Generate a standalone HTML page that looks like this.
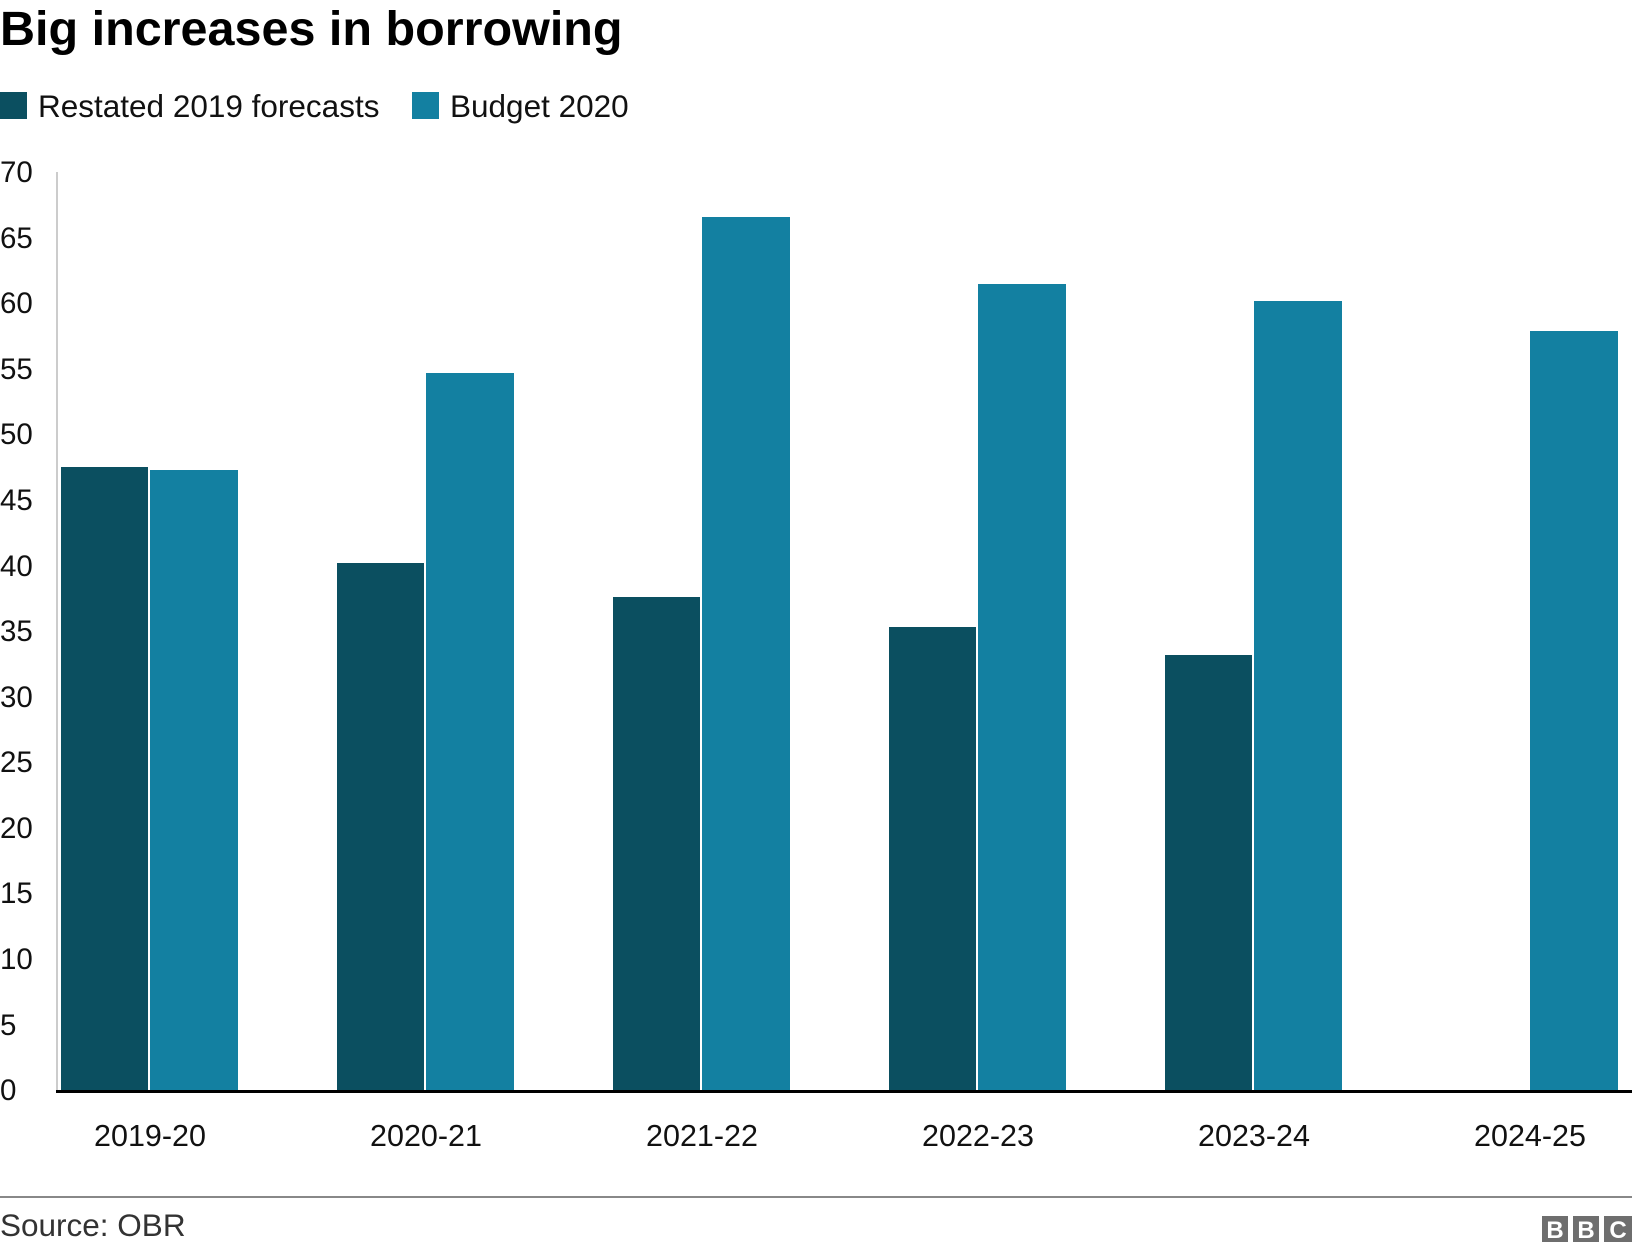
<!DOCTYPE html>
<html><head><meta charset="utf-8"><style>
body{margin:0;background:#fff;width:1632px;height:1252px;overflow:hidden;font-family:"Liberation Sans",Arial,sans-serif}
</style></head><body>
<svg width="1632" height="1252" xmlns="http://www.w3.org/2000/svg" font-family="Liberation Sans, Arial, sans-serif">
<text x="0" y="45" font-size="48.5" font-weight="bold" fill="#000">Big increases in borrowing</text>
<rect x="0" y="92" width="27" height="27" fill="#0b4f60"/>
<text x="38" y="117" font-size="31.5" fill="#111">Restated 2019 forecasts</text>
<rect x="412" y="92" width="27" height="27" fill="#1380a1"/>
<text x="450" y="117" font-size="31.5" fill="#111">Budget 2020</text>
<line x1="57" y1="172" x2="57" y2="1090" stroke="#cccccc" stroke-width="2"/>
<g font-size="29.5" fill="#111">
<text x="0" y="182">70</text><text x="0" y="248">65</text><text x="0" y="313">60</text><text x="0" y="379">55</text><text x="0" y="444">50</text><text x="0" y="510">45</text><text x="0" y="576">40</text><text x="0" y="641">35</text><text x="0" y="707">30</text><text x="0" y="772">25</text><text x="0" y="838">20</text><text x="0" y="903">15</text><text x="0" y="969">10</text><text x="0" y="1035">5</text><text x="0" y="1100">0</text>
</g>
<g fill="#0b4f60">
<rect x="61" y="467" width="87" height="623"/>
<rect x="337" y="563" width="87" height="527"/>
<rect x="613" y="597" width="87" height="493"/>
<rect x="889" y="627" width="87" height="463"/>
<rect x="1165" y="655" width="87" height="435"/>
</g>
<g fill="#1380a1">
<rect x="150" y="470" width="88" height="620"/>
<rect x="426" y="373" width="88" height="717"/>
<rect x="702" y="217" width="88" height="873"/>
<rect x="978" y="284" width="88" height="806"/>
<rect x="1254" y="301" width="88" height="789"/>
<rect x="1530" y="331" width="88" height="759"/>
</g>
<rect x="56" y="1090" width="1576" height="3" fill="#000"/>
<g font-size="30.5" fill="#111" text-anchor="middle">
<text x="150" y="1146">2019-20</text><text x="426" y="1146">2020-21</text><text x="702" y="1146">2021-22</text><text x="978" y="1146">2022-23</text><text x="1254" y="1146">2023-24</text><text x="1530" y="1146">2024-25</text>
</g>
<rect x="0" y="1196" width="1632" height="2" fill="#888"/>
<text x="0" y="1236" font-size="31.5" fill="#333">Source: OBR</text>
<g fill="#6e6e6e"><rect x="1542" y="1216" width="26" height="26"/><rect x="1573" y="1216" width="26" height="26"/><rect x="1604" y="1216" width="28" height="26"/></g>
<g fill="#fff" font-size="24" font-weight="bold" text-anchor="middle"><text x="1555" y="1238">B</text><text x="1586" y="1238">B</text><text x="1618" y="1238">C</text></g>
</svg>
</body></html>
